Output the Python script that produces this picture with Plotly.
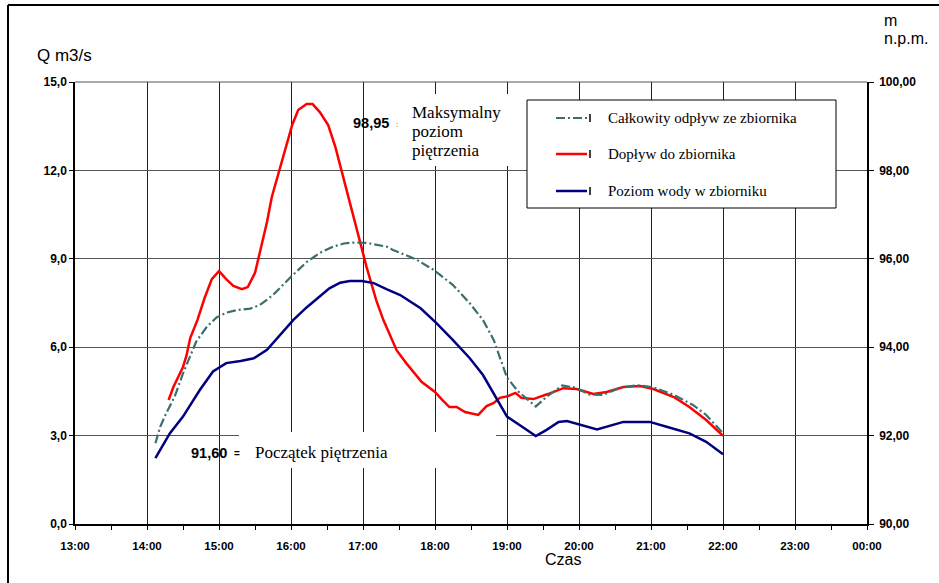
import plotly.graph_objects as go

DAY = "2000-01-01 "

# --- data ---
times_in = ["14:18","14:22","14:26","14:30","14:33","14:36","14:42","14:48","14:54","15:00",
            "15:06","15:12","15:19","15:24","15:30","15:34","15:40","15:44","15:48","15:54",
            "16:01","16:06","16:13","16:18","16:24","16:31","16:37","16:42","16:49","16:56",
            "17:03","17:11","17:17","17:28","17:36","17:49","18:00","18:06","18:12","18:18",
            "18:25","18:36","18:39","18:43","18:49","18:54","19:01","19:07","19:12","19:22",
            "19:34","19:47","19:58","20:12","20:23","20:37","20:51","21:02","21:19","21:32",
            "21:46","22:00"]
inflow = [4.21,4.65,4.99,5.33,5.73,6.31,6.92,7.67,8.31,8.58,
          8.31,8.08,7.97,8.04,8.52,9.20,10.25,11.10,11.67,12.59,
          13.54,14.05,14.25,14.25,13.98,13.54,12.79,12.01,10.89,9.87,
          8.72,7.60,6.92,5.90,5.46,4.82,4.48,4.21,3.97,3.97,
          3.80,3.70,3.83,4.00,4.11,4.28,4.34,4.45,4.28,4.24,
          4.41,4.61,4.58,4.41,4.48,4.65,4.68,4.58,4.31,3.97,
          3.53,2.99]

times_out = ["14:07","14:11","14:16","14:23","14:30","14:36","14:41","14:50","14:58","15:06",
             "15:15","15:26","15:34","15:45","15:59","16:13","16:24","16:35","16:44","16:52",
             "17:03","17:20","17:25","17:39","17:45","17:59","18:15","18:29","18:40","18:49",
             "18:54","19:00","19:09","19:24","19:33","19:46","19:57","20:09","20:20","20:34",
             "20:48","21:02","21:19","21:35","21:46","22:00"]
outflow = [2.74,3.30,3.76,4.32,5.11,5.68,6.19,6.70,7.01,7.17,
           7.26,7.31,7.43,7.77,8.35,8.89,9.20,9.41,9.52,9.55,
           9.54,9.41,9.30,9.07,8.96,8.62,8.11,7.49,6.92,6.24,
           5.68,4.97,4.51,3.99,4.32,4.70,4.63,4.39,4.38,4.62,
           4.71,4.64,4.38,4.04,3.70,3.08]

times_lvl = ["14:07","14:19","14:30","14:44","14:55","15:06","15:18","15:29","15:40","15:51",
             "16:02","16:13","16:24","16:32","16:41","16:49","16:59","17:09","17:20","17:31",
             "17:48","18:01","18:15","18:29","18:40","18:50","19:00","19:12","19:24","19:33",
             "19:43","19:50","20:01","20:15","20:37","20:59","21:13","21:32","21:46","22:00"]
level = [91.49,92.05,92.43,93.03,93.45,93.64,93.69,93.75,93.94,94.28,
         94.62,94.90,95.16,95.33,95.46,95.50,95.50,95.45,95.31,95.18,
         94.88,94.55,94.16,93.75,93.37,92.90,92.43,92.21,91.99,92.13,
         92.31,92.33,92.24,92.14,92.31,92.31,92.20,92.05,91.86,91.58]

series_names = ["Całkowity odpływ ze zbiornika", "Dopływ do zbiornika", "Poziom wody w zbiorniku"]
note_max_value = "98,95"
note_max_text = ["Maksymalny", "poziom", "piętrzenia"]
note_start_value = "91,60"
note_start_text = "Początek piętrzenia"

C_OUT = "#3C6E6E"
C_IN = "#FF0000"
C_LVL = "#000080"

# pixel -> paper helpers (plot area 75..867 x 82..524)
L, R, T, B = 75, 867, 82, 524
def fx(px): return (px - L) / (R - L)
def fy(py): return (B - py) / (B - T)

fig = go.Figure()
fig.add_trace(go.Scatter(x=[DAY + t for t in times_in], y=inflow, mode="lines",
                         line=dict(color=C_IN, width=2.5), name=series_names[1]))
fig.add_trace(go.Scatter(x=[DAY + t for t in times_out], y=outflow, mode="lines",
                         line=dict(color=C_OUT, width=2.2, dash="9px,3px,2px,3px"), name=series_names[0]))
fig.add_trace(go.Scatter(x=[DAY + t for t in times_lvl], y=level, mode="lines", yaxis="y2",
                         line=dict(color=C_LVL, width=2.5), name=series_names[2]))

tickfont = dict(family="Arial", size=12, color="black", weight="bold")

shapes = []
# outer frame (left + top)
shapes.append(dict(type="line", xref="paper", yref="paper", x0=fx(8), x1=fx(8), y0=fy(5), y1=fy(590),
                   line=dict(color="black", width=2), layer="above"))
shapes.append(dict(type="line", xref="paper", yref="paper", x0=fx(8), x1=fx(945), y0=fy(5), y1=fy(5),
                   line=dict(color="black", width=2), layer="above"))
# top border of plot area
shapes.append(dict(type="line", xref="paper", yref="paper", x0=0, x1=1, y0=1, y1=1,
                   line=dict(color="#555555", width=1), layer="below"))
# white boxes covering gridlines
for (x0, y0, x1, y1) in [(398, 94, 522, 166), (239, 432, 496, 468)]:
    shapes.append(dict(type="rect", xref="paper", yref="paper", x0=fx(x0), x1=fx(x1), y0=fy(y0), y1=fy(y1),
                       fillcolor="white", line=dict(width=0), layer="above"))
# legend box
shapes.append(dict(type="rect", xref="paper", yref="paper", x0=fx(527), x1=fx(836), y0=fy(100), y1=fy(208),
                   fillcolor="white", line=dict(color="black", width=1), layer="above"))
leg_y = [118, 154, 191]
leg_styles = [dict(color=C_OUT, width=2.2, dash="9px,3px,2px,3px"), dict(color=C_IN, width=2.5),
              dict(color=C_LVL, width=2.5)]
for yy, st in zip(leg_y, leg_styles):
    shapes.append(dict(type="line", xref="paper", yref="paper", x0=fx(556), x1=fx(587), y0=fy(yy), y1=fy(yy),
                       line=st, layer="above"))
    shapes.append(dict(type="line", xref="paper", yref="paper", x0=fx(590), x1=fx(590), y0=fy(yy - 4), y1=fy(yy + 4),
                       line=dict(color="black", width=1.5), layer="above"))

annotations = []
def ann(text, px, py, size, family="Arial", xanchor="left", weight="normal", color="black"):
    annotations.append(dict(text=text, x=fx(px), y=fy(py), xref="paper", yref="paper",
                            xanchor=xanchor, yanchor="middle", showarrow=False,
                            font=dict(family=family, size=size, color=color, weight=weight)))

ann("Q m3/s", 35, 55, 17)
ann("m", 882, 20, 16)
ann("n.p.m.", 882, 39, 16)
ann("Czas", 563, 559, 16, xanchor="center")
ann(note_max_value, 391, 123, 14.5, xanchor="right", weight="bold")
ann(":", 394, 124, 8, color="#555555")
for i, t in enumerate(note_max_text):
    ann(t, 410, 112 + 19 * i, 17, family="Liberation Serif")
ann(note_start_value, 229, 453, 14.5, xanchor="right", weight="bold")
ann("=", 232, 453, 10, weight="bold")
ann(note_start_text, 253, 452, 17, family="Liberation Serif")
for yy, nm in zip(leg_y, series_names):
    ann(nm, 606, yy, 15, family="Liberation Serif")

fig.update_layout(
    width=939, height=583,
    margin=dict(l=L, r=939 - R, t=T, b=583 - B),
    paper_bgcolor="white", plot_bgcolor="white",
    separators=", ",
    showlegend=False,
    xaxis=dict(type="date", range=["2000-01-01 13:00", "2000-01-02 00:00"],
               dtick=3600000, tick0="2000-01-01 13:00", tickformat="%H:%M",
               showgrid=True, gridcolor="#222222", gridwidth=1,
               showline=True, linecolor="black", linewidth=2,
               ticks="outside", ticklen=4, tickcolor="black",
               minor=dict(dtick=1800000, ticks="outside", ticklen=4, tickcolor="black", showgrid=False),
               tickfont=dict(family="Arial", size=11.5, color="black", weight="bold"),
               ticklabelstandoff=6, zeroline=False),
    yaxis=dict(range=[0, 15], dtick=3, tickformat=".1f",
               showgrid=True, gridcolor="#555555", gridwidth=1,
               showline=True, linecolor="black", linewidth=1.5,
               ticks="outside", ticklen=4, tickcolor="black",
               tickfont=tickfont, zeroline=False),
    yaxis2=dict(range=[90, 100], dtick=2, tickformat=".2f", overlaying="y", side="right",
                showgrid=False, showline=True, linecolor="black", linewidth=1.5,
                ticks="outside", ticklen=5, tickcolor="black",
                tickfont=tickfont, zeroline=False, ticklabelstandoff=3),
    shapes=shapes,
    annotations=annotations,
)

fig.write_html("out.html", config={"displayModeBar": False},
               post_script="document.body.style.margin='0';document.body.style.overflow='hidden';")
